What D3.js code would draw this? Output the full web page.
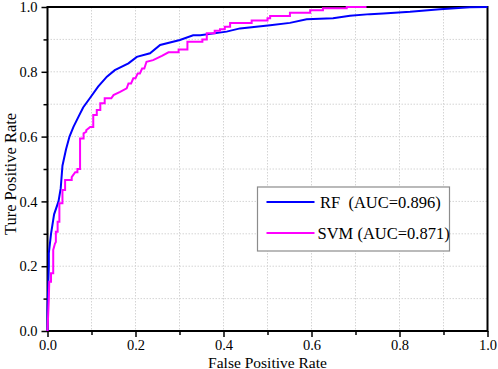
<!DOCTYPE html>
<html>
<head>
<meta charset="utf-8">
<script src="https://cdn.jsdelivr.net/npm/d3@7"></script>
<style>
  body { margin: 0; background: #fff; }
  svg, svg text { font-family: "Liberation Serif", "Times New Roman", serif; }
  svg { display: block; }
</style>
</head>
<body>
<div id="my_datavis"></div>
<script>
// ROC points: [false positive rate, true positive rate]
var rfPoints = [
  [0, 0], [0, 0.064], [0.003, 0.2], [0.003, 0.24], [0.008, 0.30], [0.015, 0.36],
  [0.025, 0.40], [0.03, 0.44], [0.034, 0.51], [0.042, 0.56], [0.05, 0.60],
  [0.059, 0.63], [0.07, 0.66], [0.081, 0.69], [0.097, 0.72], [0.115, 0.754],
  [0.135, 0.785], [0.153, 0.805], [0.184, 0.826], [0.203, 0.846], [0.233, 0.857],
  [0.256, 0.883], [0.301, 0.898], [0.331, 0.913], [0.347, 0.913], [0.407, 0.924],
  [0.4375, 0.934], [0.506, 0.944], [0.551, 0.951], [0.589, 0.962], [0.649, 0.965],
  [0.6875, 0.973], [0.733, 0.978], [0.763, 0.98], [0.824, 0.985], [0.892, 0.993],
  [0.96, 0.999], [1, 1]
];
var svmPoints = [
  [0, 0], [0.003, 0.1], [0.004, 0.152], [0.008, 0.152], [0.008, 0.178], [0.013, 0.178],
  [0.013, 0.25], [0.017, 0.27], [0.019, 0.275], [0.019, 0.306], [0.023, 0.306],
  [0.023, 0.337], [0.027, 0.337], [0.027, 0.394], [0.034, 0.394], [0.034, 0.435],
  [0.04, 0.435], [0.04, 0.466], [0.055, 0.466], [0.055, 0.475], [0.063, 0.49],
  [0.068, 0.49], [0.068, 0.50], [0.074, 0.50], [0.074, 0.594], [0.082, 0.594],
  [0.082, 0.61], [0.088, 0.615], [0.088, 0.62], [0.097, 0.63], [0.104, 0.63],
  [0.104, 0.667], [0.112, 0.667], [0.112, 0.682], [0.12, 0.682], [0.12, 0.703],
  [0.13, 0.703], [0.13, 0.718], [0.145, 0.718], [0.15, 0.728], [0.165, 0.738],
  [0.18, 0.749], [0.184, 0.764], [0.19, 0.764], [0.195, 0.78], [0.2, 0.78],
  [0.205, 0.795], [0.21, 0.795], [0.215, 0.81], [0.22, 0.81], [0.225, 0.831],
  [0.24, 0.836], [0.26, 0.849], [0.275, 0.86], [0.298, 0.86], [0.298, 0.869],
  [0.318, 0.869], [0.318, 0.893], [0.352, 0.893], [0.352, 0.9], [0.362, 0.9],
  [0.362, 0.919], [0.38, 0.919], [0.38, 0.927], [0.392, 0.927], [0.392, 0.931],
  [0.403, 0.931], [0.403, 0.939], [0.415, 0.939], [0.415, 0.951], [0.464, 0.951],
  [0.464, 0.958], [0.5, 0.958], [0.5, 0.965], [0.506, 0.965], [0.506, 0.972],
  [0.551, 0.972], [0.551, 0.982], [0.597, 0.982], [0.597, 0.99], [0.626, 0.99],
  [0.626, 0.996], [0.68, 0.996], [0.68, 1], [0.725, 1]
];
var seriesNames = ["RF  (AUC=0.896)", "SVM (AUC=0.871)"];
var seriesColors = ["#0000ff", "#ff00ff"];
var majorTicks = [0, 0.2, 0.4, 0.6, 0.8, 1.0];
var minorTicks = [0.1, 0.3, 0.5, 0.7, 0.9];
var gridTicks = [0.1, 0.2, 0.3, 0.4, 0.5, 0.6, 0.7, 0.8, 0.9];

var margin = { top: 7, right: 10.5, bottom: 38, left: 47.5 },
  width = 498 - margin.left - margin.right,
  height = 369 - margin.top - margin.bottom;

var svg = d3.select("#my_datavis")
  .append("svg")
  .attr("width", 498)
  .attr("height", 369)
  .append("g")
  .attr("transform", "translate(" + margin.left + "," + margin.top + ")");

var x = d3.scaleLinear().domain([0, 1]).range([0, width]);
var y = d3.scaleLinear().domain([0, 1]).range([height, 0]);

// dotted grid
svg.selectAll(".vgrid").data(gridTicks).enter().append("line")
  .attr("x1", function(d) { return x(d); }).attr("x2", function(d) { return x(d); })
  .attr("y1", 0).attr("y2", height)
  .attr("stroke", "#d4d4d4").attr("stroke-dasharray", "1.5,1.5");
svg.selectAll(".hgrid").data(gridTicks).enter().append("line")
  .attr("y1", function(d) { return y(d); }).attr("y2", function(d) { return y(d); })
  .attr("x1", 0).attr("x2", width)
  .attr("stroke", "#d4d4d4").attr("stroke-dasharray", "1.5,1.5");

// axes
svg.append("g")
  .attr("class", "axis")
  .attr("transform", "translate(0," + height + ")")
  .call(d3.axisBottom(x).tickValues(majorTicks).tickFormat(d3.format(".1f")).tickSize(6).tickPadding(3));
svg.append("g")
  .attr("class", "axis")
  .call(d3.axisLeft(y).tickValues(majorTicks).tickFormat(d3.format(".1f")).tickSize(6).tickPadding(4));
svg.append("g")
  .attr("transform", "translate(0," + height + ")")
  .call(d3.axisBottom(x).tickValues(minorTicks).tickFormat("").tickSize(4));
svg.append("g")
  .call(d3.axisLeft(y).tickValues(minorTicks).tickFormat("").tickSize(4));

svg.selectAll(".domain").remove();
svg.selectAll(".tick line").attr("stroke", "#000").attr("stroke-width", 1.5);
svg.selectAll(".axis")
  .attr("font-family", null)
  .attr("font-size", null);
svg.selectAll(".axis .tick text")
  .style("font-family", "'Liberation Serif', 'Times New Roman', serif")
  .style("font-size", "14.5px")
  .attr("fill", "#000");

// frame
svg.append("rect")
  .attr("x", 0).attr("y", 0).attr("width", width).attr("height", height)
  .attr("fill", "none").attr("stroke", "#000").attr("stroke-width", 2);

// curves
var line = d3.line()
  .x(function(d) { return x(d[0]); })
  .y(function(d) { return y(d[1]); });

[rfPoints, svmPoints].forEach(function(pts, i) {
  svg.append("path")
    .datum(pts)
    .attr("fill", "none")
    .attr("stroke", seriesColors[i])
    .attr("stroke-width", 2)
    .attr("d", line);
});

// axis titles
svg.append("text")
  .attr("text-anchor", "middle")
  .attr("x", width / 2)
  .attr("y", height + 36.5)
  .attr("font-size", 15.5)
  .text("False Positive Rate");

svg.append("text")
  .attr("text-anchor", "middle")
  .attr("transform", "translate(" + (16 - margin.left) + "," + (height / 2 + 5) + ") rotate(-90)")
  .attr("font-size", 16.5)
  .text("Ture Positive Rate");

// legend
var legend = svg.append("g").attr("transform", "translate(" + (257.5 - margin.left) + "," + (187 - margin.top) + ")");
legend.append("rect")
  .attr("width", 192).attr("height", 64)
  .attr("fill", "#fff").attr("stroke", "#8c8c8c").attr("stroke-width", 1.2);
seriesNames.forEach(function(name, i) {
  var ly = 15 + i * 31;
  legend.append("line")
    .attr("x1", 9).attr("x2", 57)
    .attr("y1", ly).attr("y2", ly)
    .attr("stroke", seriesColors[i]).attr("stroke-width", 2);
  legend.append("text")
    .attr("x", i == 0 ? 62.5 : 60)
    .attr("y", ly + 6)
    .attr("font-size", 16.5)
    .style("white-space", "pre")
    .text(name);
});
</script>
</body>
</html>
